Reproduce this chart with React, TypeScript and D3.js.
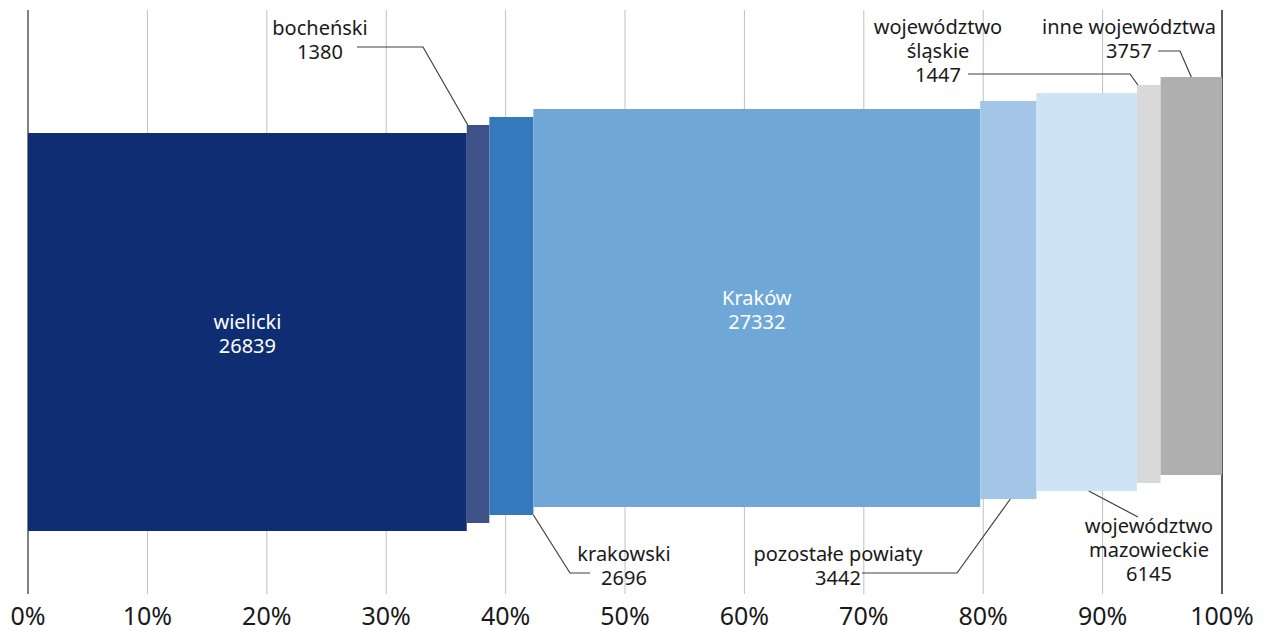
import * as d3 from "d3";

// data
const categories = [
  "wielicki",
  "bocheński",
  "krakowski",
  "Kraków",
  "pozostałe powiaty",
  "województwo mazowieckie",
  "województwo śląskie",
  "inne województwa",
];
const values = [26839, 1380, 2696, 27332, 3442, 6145, 1447, 3757];
const colors = [
  "#0e2d72",
  "#3e5189",
  "#3479bb",
  "#6fa8d6",
  "#a3c6e8",
  "#cfe3f6",
  "#d9d9d9",
  "#afafaf",
];
const tickValues = [0, 0.1, 0.2, 0.3, 0.4, 0.5, 0.6, 0.7, 0.8, 0.9, 1];

// label lines (category name split as in the picture + value)
const labelLines = [
  ["wielicki"],
  ["bocheński"],
  ["krakowski"],
  ["Kraków"],
  ["pozostałe powiaty"],
  ["województwo", "mazowieckie"],
  ["województwo", "śląskie"],
  ["inne województwa"],
];

// label layout: inside labels or outside with a leader line
type Lay = {
  inside?: boolean;
  cx?: number;
  y?: number;
  knee?: [number, number][];
  anchor?: "topLeft" | "topCenter" | "bottomRight" | "bottomCenter";
};
const layout: Lay[] = [
  { inside: true },
  { cx: 320, y: 35, knee: [[357, 47], [423, 47]], anchor: "topLeft" },
  { cx: 624, y: 561, knee: [[590, 573], [570, 573]], anchor: "bottomRight" },
  { inside: true },
  { cx: 838, y: 561, knee: [[862, 573], [957, 573]], anchor: "bottomCenter" },
  { cx: 1149, y: 533, knee: [[1138, 517]], anchor: "bottomCenter" },
  { cx: 938, y: 34, knee: [[968, 74], [1130, 74]], anchor: "topLeft" },
  { cx: 1129, y: 34, knee: [[1158, 51], [1180, 51]], anchor: "topCenter" },
];

const W = 1268;
const H = 631;
const FONT = "'Noto Sans', sans-serif";

export default function App() {
  const total = d3.sum(values);
  const cum = d3.cumsum(values);
  const starts = values.map((v, i) => (cum[i] - v) / total);
  const ends = values.map((_, i) => cum[i] / total);

  const x = d3.scaleLinear().domain([0, 1]).range([28, 1222]);
  // each following bar steps up a little
  const yTop = d3.scaleLinear().domain([0, categories.length - 1]).range([133, 77]);
  const barH = 398;
  const lineH = 24;
  const fs = 20;

  const fmt = d3.format(".0%");

  return (
    <div style={{ position: "absolute", left: 0, top: 0 }}>
      <svg width={W} height={H} style={{ display: "block", fontFamily: FONT }}>
        {tickValues.map((t, i) => (
          <line
            key={"g" + i}
            x1={x(t)}
            x2={x(t)}
            y1={10}
            y2={594}
            stroke={t === 0 ? "#595959" : t === 1 ? "#262626" : "#c0c0c0"}
            strokeWidth={t === 0 || t === 1 ? 1.5 : 1}
          />
        ))}
        {values.map((v, i) => (
          <rect
            key={"b" + i}
            x={x(starts[i])}
            y={yTop(i)}
            width={x(ends[i]) - x(starts[i])}
            height={barH}
            fill={colors[i]}
          />
        ))}
        {tickValues.map((t, i) => (
          <text
            key={"t" + i}
            x={x(t)}
            y={625}
            textAnchor="middle"
            fontSize={25}
            fill="#1a1a1a"
          >
            {fmt(t)}
          </text>
        ))}
        {values.map((v, i) => {
          const lay = layout[i];
          const lines = [...labelLines[i], String(v)];
          if (lay.inside) {
            const cx = (x(starts[i]) + x(ends[i])) / 2;
            const cy = yTop(i) + barH / 2;
            const y0 = cy - 3;
            return (
              <text key={"l" + i} textAnchor="middle" fontSize={fs} fill="#ffffff">
                {lines.map((s, k) => (
                  <tspan key={k} x={cx} y={y0 + k * lineH}>
                    {s}
                  </tspan>
                ))}
              </text>
            );
          }
          const left = x(starts[i]);
          const right = x(ends[i]);
          const mid = (left + right) / 2;
          const top = yTop(i);
          const bottom = top + barH;
          const end: [number, number] =
            lay.anchor === "topLeft"
              ? [left + 1, top]
              : lay.anchor === "topCenter"
              ? [mid, top]
              : lay.anchor === "bottomRight"
              ? [right, bottom]
              : [mid + 2, bottom];
          const pts =
            lay.anchor === "bottomRight"
              ? [end, ...(lay.knee as [number, number][]).slice().reverse()]
              : [...(lay.knee as [number, number][]), end];
          return (
            <g key={"l" + i}>
              <path
                d={d3.line()(pts) as string}
                fill="none"
                stroke="#404040"
                strokeWidth={1.2}
              />
              <text textAnchor="middle" fontSize={fs} fill="#1a1a1a">
                {lines.map((s, k) => (
                  <tspan key={k} x={lay.cx} y={(lay.y as number) + k * lineH}>
                    {s}
                  </tspan>
                ))}
              </text>
            </g>
          );
        })}
      </svg>
    </div>
  );
}
